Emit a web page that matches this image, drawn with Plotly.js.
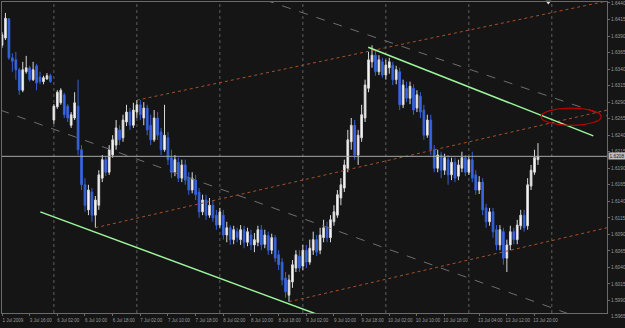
<!DOCTYPE html>
<html><head><meta charset="utf-8">
<script src="https://cdn.plot.ly/plotly-3.0.1.min.js"></script>
<style>html,body{margin:0;padding:0;background:#151515;}</style>
</head><body><div id="chart" style="width:625px;height:328px;"></div>
<script>
// ---- OHLC data (hourly bars) ----
const opens  = [1.6376,1.6387,1.6416,1.6357,1.6354,1.6339,1.6308,1.6336,1.6342,1.6324,1.6345,1.6328,1.6321,1.6325,1.6330,
1.6263,1.6283,1.6289,1.6301,1.6284,1.6255,1.6266,1.6284,1.6218,1.6165,1.6127,1.6154,1.6119,1.6134,1.6175,
1.6203,1.6184,1.6210,1.6225,1.6248,1.6236,1.6260,1.6275,1.6255,1.6275,1.6286,1.6266,1.6281,1.6255,1.6233,
1.6266,1.6245,1.6218,1.6236,1.6206,1.6184,1.6199,1.6175,1.6195,1.6175,1.6157,1.6172,1.6154,1.6124,1.6142,
1.6119,1.6134,1.6119,1.6104,1.6119,1.6089,1.6100,1.6082,1.6094,1.6082,1.6097,1.6078,1.6089,1.6074,1.6078,
1.6097,1.6075,1.6088,1.6066,1.6085,1.6059,1.6048,1.6024,1.5998,1.6018,1.6039,1.6057,1.6042,1.6066,1.6048,
1.6066,1.6082,1.6066,1.6085,1.6100,1.6085,1.6109,1.6119,1.6145,1.6160,1.6190,1.6230,1.6255,1.6210,1.6236,
1.6266,1.6311,1.6351,1.6361,1.6336,1.6351,1.6331,1.6342,1.6346,1.6324,1.6336,1.6286,1.6311,1.6296,1.6311,
1.6281,1.6299,1.6278,1.6240,1.6263,1.6218,1.6190,1.6210,1.6187,1.6203,1.6180,1.6199,1.6178,1.6190,1.6206,
1.6184,1.6203,1.6180,1.6157,1.6169,1.6130,1.6109,1.6124,1.6097,1.6074,1.6094,1.6054,1.6074,1.6094,1.6082,
1.6103,1.6119,1.6103,1.6163,1.6184,1.6203];
const highs  = [1.6396,1.6425,1.6417,1.6364,1.6366,1.6342,1.6351,1.6360,1.6345,1.6351,1.6348,1.6336,1.6330,1.6334,1.6333,
1.6287,1.6308,1.6311,1.6304,1.6287,1.6275,1.6305,1.6324,1.6225,1.6175,1.6165,1.6160,1.6148,1.6187,1.6210,
1.6208,1.6225,1.6240,1.6263,1.6255,1.6271,1.6286,1.6281,1.6289,1.6293,1.6293,1.6290,1.6286,1.6271,1.6278,
1.6275,1.6251,1.6286,1.6245,1.6218,1.6210,1.6206,1.6203,1.6203,1.6184,1.6184,1.6180,1.6160,1.6150,1.6150,
1.6145,1.6142,1.6127,1.6130,1.6127,1.6109,1.6104,1.6103,1.6100,1.6104,1.6103,1.6100,1.6097,1.6092,1.6103,
1.6104,1.6097,1.6094,1.6091,1.6089,1.6066,1.6054,1.6033,1.6029,1.6051,1.6066,1.6066,1.6074,1.6074,1.6082,
1.6094,1.6089,1.6100,1.6112,1.6109,1.6119,1.6134,1.6157,1.6175,1.6203,1.6248,1.6266,1.6263,1.6248,1.6286,
1.6324,1.6366,1.6376,1.6369,1.6361,1.6357,1.6354,1.6357,1.6351,1.6345,1.6342,1.6324,1.6321,1.6321,1.6317,
1.6308,1.6305,1.6286,1.6271,1.6271,1.6225,1.6218,1.6215,1.6212,1.6210,1.6206,1.6206,1.6203,1.6215,1.6210,
1.6208,1.6215,1.6187,1.6178,1.6175,1.6136,1.6130,1.6130,1.6104,1.6104,1.6100,1.6082,1.6103,1.6100,1.6112,
1.6127,1.6127,1.6175,1.6195,1.6218,1.6228];
const lows   = [1.6372,1.6384,1.6354,1.6336,1.6324,1.6301,1.6305,1.6333,1.6321,1.6322,1.6308,1.6317,1.6317,1.6324,1.6319,
1.6257,1.6280,1.6286,1.6266,1.6260,1.6251,1.6263,1.6210,1.6157,1.6124,1.6119,1.6109,1.6100,1.6127,1.6169,
1.6178,1.6180,1.6206,1.6218,1.6225,1.6230,1.6254,1.6248,1.6251,1.6266,1.6263,1.6255,1.6240,1.6225,1.6230,
1.6233,1.6210,1.6215,1.6195,1.6175,1.6178,1.6169,1.6169,1.6165,1.6150,1.6152,1.6142,1.6115,1.6119,1.6112,
1.6115,1.6109,1.6097,1.6100,1.6082,1.6078,1.6074,1.6075,1.6078,1.6074,1.6069,1.6072,1.6066,1.6063,1.6072,
1.6066,1.6069,1.6059,1.6060,1.6048,1.6036,1.6013,1.5994,1.5988,1.6009,1.6033,1.6033,1.6036,1.6039,1.6044,
1.6059,1.6057,1.6060,1.6078,1.6078,1.6078,1.6103,1.6115,1.6134,1.6154,1.6184,1.6218,1.6203,1.6195,1.6230,
1.6260,1.6305,1.6342,1.6330,1.6331,1.6327,1.6324,1.6333,1.6316,1.6317,1.6278,1.6281,1.6290,1.6287,1.6271,
1.6275,1.6266,1.6233,1.6236,1.6210,1.6184,1.6184,1.6175,1.6180,1.6165,1.6172,1.6169,1.6172,1.6184,1.6178,
1.6180,1.6169,1.6150,1.6151,1.6119,1.6100,1.6103,1.6085,1.6066,1.6066,1.6044,1.6033,1.6066,1.6075,1.6075,
1.6097,1.6094,1.6097,1.6157,1.6180,1.6195];
const closes = [1.6392,1.6417,1.6357,1.6352,1.6339,1.6308,1.6339,1.6342,1.6324,1.6339,1.6319,1.6321,1.6327,1.6330,1.6321,
1.6284,1.6305,1.6308,1.6271,1.6266,1.6271,1.6289,1.6218,1.6165,1.6134,1.6157,1.6119,1.6142,1.6180,1.6203,
1.6184,1.6218,1.6233,1.6251,1.6233,1.6263,1.6275,1.6255,1.6278,1.6286,1.6271,1.6281,1.6248,1.6233,1.6266,
1.6240,1.6218,1.6240,1.6203,1.6184,1.6203,1.6175,1.6195,1.6172,1.6157,1.6175,1.6150,1.6124,1.6142,1.6119,
1.6134,1.6115,1.6104,1.6124,1.6089,1.6100,1.6082,1.6097,1.6085,1.6097,1.6078,1.6094,1.6074,1.6082,1.6097,
1.6074,1.6089,1.6066,1.6085,1.6054,1.6044,1.6021,1.6003,1.6021,1.6044,1.6059,1.6039,1.6066,1.6048,1.6069,
1.6082,1.6063,1.6089,1.6100,1.6085,1.6112,1.6124,1.6150,1.6165,1.6195,1.6233,1.6255,1.6210,1.6240,1.6271,
1.6316,1.6354,1.6361,1.6336,1.6354,1.6331,1.6346,1.6351,1.6324,1.6339,1.6286,1.6316,1.6296,1.6314,1.6278,
1.6301,1.6275,1.6240,1.6263,1.6218,1.6190,1.6210,1.6187,1.6206,1.6180,1.6199,1.6175,1.6195,1.6206,1.6184,
1.6203,1.6175,1.6157,1.6169,1.6127,1.6109,1.6124,1.6094,1.6074,1.6097,1.6054,1.6074,1.6094,1.6082,1.6104,
1.6119,1.6100,1.6165,1.6187,1.6206,1.6208];

// ---- time axis labels (bar index -> text) ----
const tickIdx  = [0,8,16,24,32,40,48,56,64,72,80,88,96,104,112,120,128,138,146,154];
const tickText = ["1 Jul 2009","3 Jul 16:00","6 Jul 02:00","6 Jul 10:00","6 Jul 18:00","7 Jul 02:00","7 Jul 10:00","7 Jul 18:00",
  "8 Jul 02:00","8 Jul 10:00","8 Jul 18:00","9 Jul 02:00","9 Jul 10:00","9 Jul 18:00","10 Jul 02:00","10 Jul 10:00",
  "10 Jul 18:00","13 Jul 04:00","13 Jul 12:00","13 Jul 20:00"];
const daySeparators = [15,39,63,87,111,135,159];
const priceTicks = [1.6440,1.6415,1.6390,1.6365,1.6340,1.6315,1.6290,1.6265,1.6240,1.6215,1.6190,1.6165,1.6140,1.6115,
  1.6090,1.6065,1.6040,1.6015,1.5990,1.5965];

// ---- drawn objects (bar index, price) ----
const greenLowerIdx = [11.07, 95.8],  greenLowerPx = [1.6124, 1.5960];
const greenUpperIdx = [105.9, 171.0], greenUpperPx = [1.6373, 1.6239];
const grayUpperIdx  = [76.1, 175.0],  grayUpperPx  = [1.64445, 1.6269];
const grayLowerIdx  = [-0.5, 166.4],  grayLowerPx  = [1.6278, 1.5965];
const orangeTopIdx  = [39, 175],      orangeTopPx  = [1.6293, 1.6443];
const orangeMidIdx  = [27, 175],      orangeMidPx  = [1.6100, 1.6278];
const orangeBotIdx  = [83, 175],      orangeBotPx  = [1.5988, 1.6100];
const ellipseIdx = [155.9, 173.3], ellipsePx = [1.6255, 1.6281];
const shiftMarkIdx = [158];

const xRange = [0, 174.96];
const yRange = [1.5971, 1.64415];
const bg = '#151515', fg = '#9a9a9a', frame = '#6a6a6a';

const idx = opens.map((_, i) => i);
const traces = [
  {type:'scatter', mode:'lines', x:grayUpperIdx, y:grayUpperPx, line:{color:'#6e6e6e', width:1, dash:'dash'}, hoverinfo:'skip'},
  {type:'scatter', mode:'lines', x:grayLowerIdx, y:grayLowerPx, line:{color:'#6e6e6e', width:1, dash:'dash'}, hoverinfo:'skip'},
  {type:'scatter', mode:'lines', x:orangeTopIdx, y:orangeTopPx, line:{color:'#a4502a', width:1, dash:'dot'}, hoverinfo:'skip'},
  {type:'scatter', mode:'lines', x:orangeMidIdx, y:orangeMidPx, line:{color:'#a4502a', width:1, dash:'dot'}, hoverinfo:'skip'},
  {type:'scatter', mode:'lines', x:orangeBotIdx, y:orangeBotPx, line:{color:'#a4502a', width:1, dash:'dot'}, hoverinfo:'skip'},
  {type:'candlestick', x:idx, open:opens, high:highs, low:lows, close:closes,
    increasing:{line:{color:'#d8d8d8', width:1}, fillcolor:'#ffffff'},
    decreasing:{line:{color:'#3560d6', width:1}, fillcolor:'#3d6ae4'},
    whiskerwidth:0, hoverinfo:'skip'},
  {type:'scatter', mode:'lines', x:greenLowerIdx, y:greenLowerPx, line:{color:'#9cf59c', width:1.5}, hoverinfo:'skip'},
  {type:'scatter', mode:'lines', x:greenUpperIdx, y:greenUpperPx, line:{color:'#9cf59c', width:1.5}, hoverinfo:'skip'},
  {type:'scatter', mode:'markers', x:shiftMarkIdx, y:[yRange[1]], cliponaxis:false,
    marker:{symbol:'triangle-down', size:5, color:'#e0e0e0'}, hoverinfo:'skip'}
];

const lastClose = closes[closes.length - 1];
const shapes = daySeparators.map(d => ({type:'line', xref:'x', yref:'paper', x0:d, x1:d, y0:0, y1:1,
  line:{color:'#5e5e5e', width:1, dash:'dot'}, layer:'below'}));
shapes.push({type:'line', xref:'paper', yref:'y', x0:0, x1:1, y0:lastClose, y1:lastClose, line:{color:'#a8a8a8', width:1}});
shapes.push({type:'circle', xref:'x', yref:'y', x0:ellipseIdx[0], x1:ellipseIdx[1], y0:ellipsePx[0], y1:ellipsePx[1],
  line:{color:'#c00000', width:1.2}});

const inRange = priceTicks.filter(v => v >= yRange[0] && v <= yRange[1]);
const below = priceTicks.filter(v => v < yRange[0]);
const annotations = below.map(v => ({xref:'paper', yref:'paper', x:1, xanchor:'left', xshift:2,
  y:(v - yRange[0]) / (yRange[1] - yRange[0]), yanchor:'middle', text:v.toFixed(4), showarrow:false,
  font:{family:'Liberation Sans', size:4.8, color:fg}}));
annotations.push({xref:'paper', yref:'y', x:1, xanchor:'left', xshift:1, y:lastClose, yanchor:'middle',
  text:lastClose.toFixed(4), showarrow:false, bgcolor:'#bdbdbd', borderpad:0.5,
  font:{family:'Liberation Sans', size:4.8, color:'#202020'}});

const layout = {
  width:625, height:328, paper_bgcolor:bg, plot_bgcolor:bg, showlegend:false,
  margin:{l:2, r:18, t:2, b:15},
  xaxis:{range:xRange, tickmode:'array', tickvals:tickIdx, ticktext:tickText, showgrid:false, zeroline:false,
    showline:true, mirror:true, linecolor:frame, linewidth:1, ticks:'outside', ticklen:2, tickcolor:frame,
    tickfont:{family:'Liberation Sans', size:4.5, color:fg}, ticklabelshift:11, ticklabelstandoff:1,
    rangeslider:{visible:false}, fixedrange:true},
  yaxis:{range:yRange, side:'right', tickmode:'array', tickvals:inRange, ticktext:inRange.map(v=>v.toFixed(4)),
    showgrid:false, zeroline:false, showline:true, mirror:true, linecolor:frame, linewidth:1,
    ticks:'outside', ticklen:2, tickcolor:frame, tickfont:{family:'Liberation Sans', size:4.8, color:fg}, fixedrange:true},
  shapes:shapes, annotations:annotations
};
Plotly.newPlot('chart', traces, layout, {staticPlot:true, displayModeBar:false});
</script></body></html>
